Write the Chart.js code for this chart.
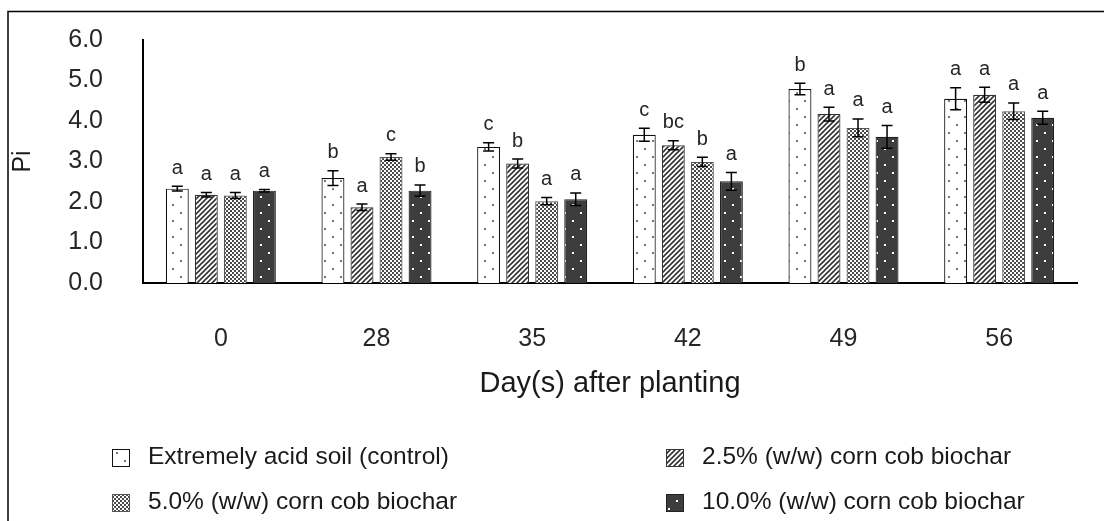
<!DOCTYPE html>
<html>
<head>
<meta charset="utf-8">
<script src="https://cdn.jsdelivr.net/npm/chart.js@4.4.1/dist/chart.umd.min.js"></script>
<style>
  html, body { margin: 0; padding: 0; background: #fff; }
  #wrap { width: 1104px; height: 521px; position: relative; }
</style>
</head>
<body>
<div id="wrap"><canvas id="myChart" width="1104" height="521"></canvas></div>
<script>
// Data
const days = ['0', '28', '35', '42', '49', '56'];
const yTickLabels = ['0.0', '1.0', '2.0', '3.0', '4.0', '5.0', '6.0'];
const seriesNames = [
  'Extremely acid soil (control)',
  '2.5% (w/w) corn cob biochar',
  '5.0% (w/w) corn cob biochar',
  '10.0% (w/w) corn cob biochar'
];

const controlVals = [2.33, 2.59, 3.36, 3.66, 4.79, 4.55];
const biochar25Vals = [2.18, 1.87, 2.95, 3.40, 4.17, 4.65];
const biochar50Vals = [2.16, 3.11, 2.02, 2.99, 3.83, 4.24];
const biochar100Vals = [2.28, 2.28, 2.07, 2.51, 3.61, 4.08];

const controlErr = [0.06, 0.18, 0.10, 0.16, 0.14, 0.27];
const biochar25Err = [0.055, 0.08, 0.11, 0.11, 0.17, 0.185];
const biochar50Err = [0.075, 0.08, 0.09, 0.115, 0.22, 0.205];
const biochar100Err = [0.03, 0.14, 0.155, 0.22, 0.28, 0.16];

const controlLetters = ['a', 'b', 'c', 'c', 'b', 'a'];
const biochar25Letters = ['a', 'a', 'b', 'bc', 'a', 'a'];
const biochar50Letters = ['a', 'c', 'a', 'b', 'a', 'a'];
const biochar100Letters = ['a', 'b', 'a', 'a', 'a', 'a'];

const allVals = [controlVals, biochar25Vals, biochar50Vals, biochar100Vals];
const allErr = [controlErr, biochar25Err, biochar50Err, biochar100Err];
const allLetters = [controlLetters, biochar25Letters, biochar50Letters, biochar100Letters];

const FONT = "'Liberation Sans', Arial, sans-serif";
Chart.defaults.font.family = FONT;
Chart.defaults.color = '#262626';

// Fill patterns for the four treatments
function makePattern(kind) {
  const c = document.createElement('canvas');
  const g = c.getContext('2d');
  if (kind === 'dots') {
    c.width = 16; c.height = 16;
    g.fillStyle = '#fff'; g.fillRect(0, 0, 16, 16);
    g.fillStyle = '#777';
    g.fillRect(4, 4, 2, 2);
    g.fillRect(12, 12, 2, 2);
  } else if (kind === 'hatch') {
    c.width = 5; c.height = 5;
    g.fillStyle = '#fff'; g.fillRect(0, 0, 5, 5);
    g.strokeStyle = '#333';
    g.lineWidth = 1.6;
    for (let k = 0; k <= 10; k += 5) {
      g.beginPath();
      g.moveTo(k + 1, -1);
      g.lineTo(k - 6, 6);
      g.stroke();
    }
  } else if (kind === 'checker') {
    c.width = 4; c.height = 4;
    g.fillStyle = '#fff'; g.fillRect(0, 0, 4, 4);
    g.fillStyle = '#4a4a4a';
    g.fillRect(0, 0, 2, 2);
    g.fillRect(2, 2, 2, 2);
  } else {
    c.width = 16; c.height = 16;
    g.fillStyle = '#3d3d3d'; g.fillRect(0, 0, 16, 16);
    g.fillStyle = '#fff';
    g.fillRect(4, 4, 2, 2);
    g.fillRect(12, 12, 2, 2);
  }
  return g.createPattern(c, 'repeat');
}

const fills = [makePattern('dots'), makePattern('hatch'), makePattern('checker'), makePattern('dark')];
const borders = ['#111', '#333', '#555', '#222'];

// Frame lines (left and top) like the original figure box
const framePlugin = {
  id: 'frame',
  beforeDraw(chart) {
    const c = chart.ctx;
    c.save();
    c.fillStyle = '#fff';
    c.fillRect(0, 0, chart.width, chart.height);
    c.strokeStyle = '#000';
    c.lineWidth = 1.5;
    c.beginPath();
    c.moveTo(8, chart.height);
    c.lineTo(8, 11.5);
    c.lineTo(chart.width, 11.5);
    c.stroke();
    c.restore();
  }
};

// Error bars and significance letters
const errorPlugin = {
  id: 'errorBars',
  afterDatasetsDraw(chart) {
    const c = chart.ctx;
    const y = chart.scales.y;
    c.save();
    chart.data.datasets.forEach((ds, di) => {
      const meta = chart.getDatasetMeta(di);
      meta.data.forEach((bar, i) => {
        const v = ds.data[i];
        const e = allErr[di][i];
        const top = y.getPixelForValue(v + e);
        const bot = y.getPixelForValue(v - e);
        const x = bar.x;
        c.strokeStyle = '#000';
        c.lineWidth = 1.5;
        c.beginPath();
        c.moveTo(x, top); c.lineTo(x, bot);
        c.moveTo(x - 5.5, top); c.lineTo(x + 5.5, top);
        c.moveTo(x - 5.5, bot); c.lineTo(x + 5.5, bot);
        c.stroke();
        c.fillStyle = '#262626';
        c.font = '20px ' + FONT;
        c.textAlign = 'center';
        c.textBaseline = 'alphabetic';
        c.fillText(allLetters[di][i], x, top - 12.5);
      });
    });
    c.restore();
  }
};

// Two-column legend below the axis title
const legendPlugin = {
  id: 'twoColLegend',
  afterDraw(chart) {
    const c = chart.ctx;
    const cols = [112, 666];
    const rows = [449, 494];
    c.save();
    c.font = '24.5px ' + FONT;
    c.textAlign = 'left';
    c.textBaseline = 'middle';
    chart.data.datasets.forEach((ds, di) => {
      const bx = cols[di % 2];
      const by = rows[Math.floor(di / 2)];
      c.fillStyle = ds.backgroundColor;
      c.fillRect(bx, by, 18, 18);
      c.strokeStyle = ds.borderColor;
      c.lineWidth = 1;
      c.strokeRect(bx + 0.5, by + 0.5, 17, 17);
      c.fillStyle = '#1a1a1a';
      c.fillText(ds.label, bx + 36, by + 8);
    });
    c.restore();
  }
};

const ctx = document.getElementById('myChart');
const myChart = new Chart(ctx, {
  type: 'bar',
  data: {
    labels: days,
    datasets: allVals.map((vals, i) => ({
      label: seriesNames[i],
      data: vals,
      backgroundColor: fills[i],
      borderColor: borders[i],
      borderWidth: 1.2,
      categoryPercentage: 0.746,
      barPercentage: 0.79
    }))
  },
  options: {
    responsive: false,
    animation: false,
    layout: { padding: { top: 40, right: 27, left: 0, bottom: 0 } },
    plugins: {
      legend: { display: false },
      tooltip: { enabled: false }
    },
    scales: {
      x: {
        grid: { display: false },
        border: { display: true, color: '#000', width: 2 },
        ticks: { padding: 33, font: { size: 25 }, color: '#262626' },
        title: {
          display: true,
          text: 'Day(s) after planting',
          font: { size: 29 },
          color: '#1a1a1a',
          padding: { top: 0, bottom: 120 }
        },
        afterFit(scale) { scale.height = 238; }
      },
      y: {
        min: 0,
        max: 6,
        grid: { display: false },
        border: { display: true, color: '#000', width: 2 },
        ticks: {
          stepSize: 1,
          padding: 32,
          font: { size: 25 },
          color: '#262626',
          callback: (v, idx) => yTickLabels[idx]
        },
        title: {
          display: true,
          text: 'Pi',
          font: { size: 25 },
          color: '#1a1a1a',
          padding: { top: 8, bottom: 0 }
        },
        afterFit(scale) {
          scale.width = 143;
          scale.paddingTop = 0;
          scale.paddingBottom = 0;
        }
      }
    }
  },
  plugins: [framePlugin, errorPlugin, legendPlugin]
});
</script>
</body>
</html>
